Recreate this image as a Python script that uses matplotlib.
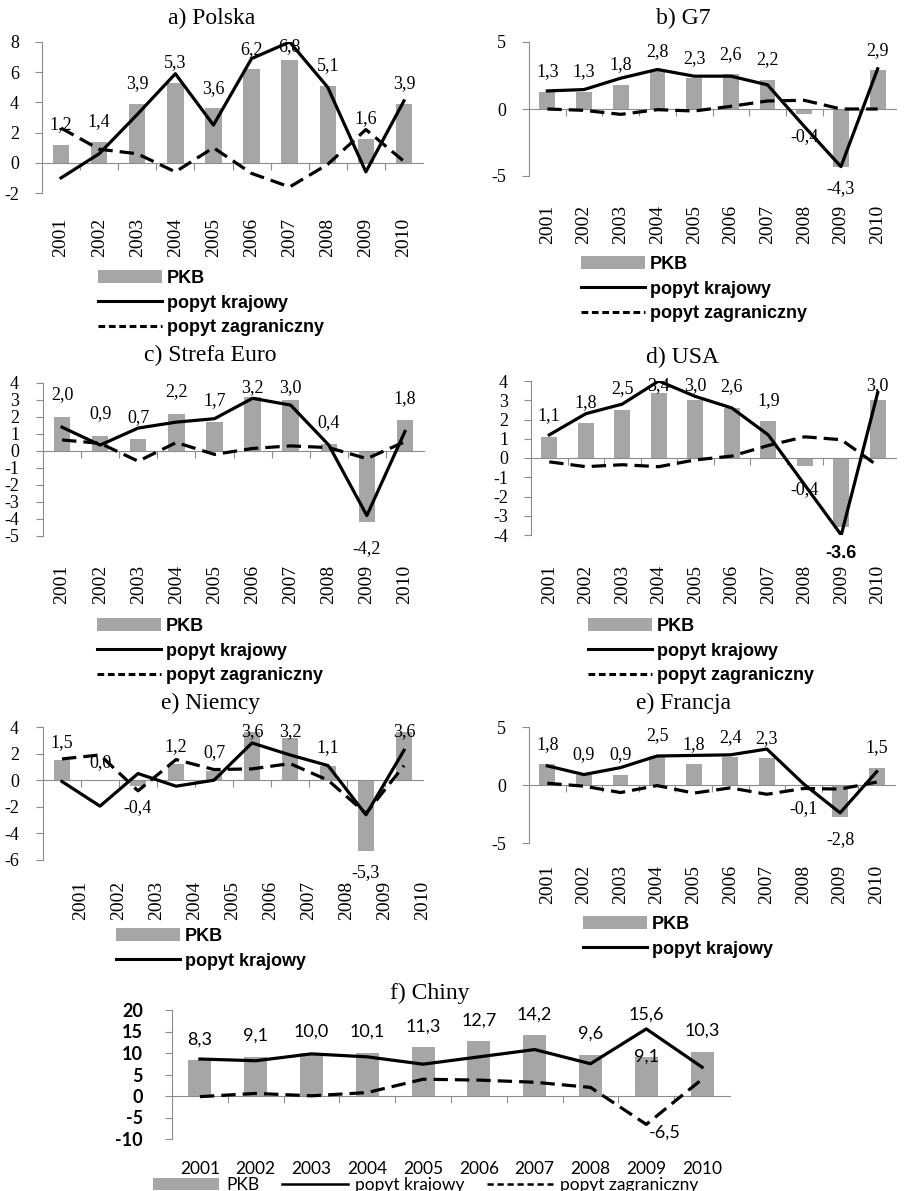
import matplotlib
matplotlib.use('Agg')
import matplotlib.pyplot as plt
from matplotlib.patches import Patch
from matplotlib.lines import Line2D
import numpy as np

years = ['2001', '2002', '2003', '2004', '2005', '2006', '2007', '2008', '2009', '2010']

# PKB (bars), popyt krajowy (solid), popyt zagraniczny (dashed)
pl_pkb = [1.2, 1.4, 3.9, 5.3, 3.6, 6.2, 6.8, 5.1, 1.6, 3.9]
pl_dom = [-1.0, 0.6, 3.2, 5.9, 2.5, 6.9, 8.0, 5.0, -0.6, 4.1]
pl_for = [2.3, 0.9, 0.6, -0.6, 1.0, -0.7, -1.6, -0.1, 2.2, 0.1]

g7_pkb = [1.3, 1.3, 1.8, 2.8, 2.3, 2.6, 2.2, -0.4, -4.3, 2.9]
g7_dom = [1.35, 1.45, 2.3, 2.95, 2.45, 2.45, 1.8, -1.3, -4.3, 3.0]
g7_for = [0.0, -0.1, -0.4, -0.05, -0.15, 0.2, 0.6, 0.65, 0.0, 0.0]

ez_pkb = [2.0, 0.9, 0.7, 2.2, 1.7, 3.2, 3.0, 0.4, -4.2, 1.8]
ez_dom = [1.4, 0.35, 1.35, 1.7, 1.9, 3.1, 2.7, 0.35, -3.8, 1.15]
ez_for = [0.65, 0.45, -0.6, 0.5, -0.2, 0.15, 0.3, 0.2, -0.45, 0.55]

us_pkb = [1.1, 1.8, 2.5, 3.4, 3.0, 2.6, 1.9, -0.4, -3.6, 3.0]
us_dom = [1.2, 2.3, 2.8, 4.0, 3.2, 2.6, 1.2, -1.4, -4.0, 3.4]
us_for = [-0.2, -0.45, -0.35, -0.45, -0.1, 0.1, 0.65, 1.1, 0.95, -0.4]

de_pkb = [1.5, 0.0, -0.4, 1.2, 0.7, 3.6, 3.2, 1.1, -5.3, 3.6]
de_dom = [-0.1, -1.95, 0.5, -0.45, 0.0, 2.8, 1.9, 1.1, -2.6, 2.25]
de_for = [1.6, 1.9, -0.8, 1.55, 0.8, 0.85, 1.25, 0.0, -2.5, 1.1]

fr_pkb = [1.8, 0.9, 0.9, 2.5, 1.8, 2.4, 2.3, -0.1, -2.8, 1.5]
fr_dom = [1.65, 0.9, 1.5, 2.5, 2.55, 2.6, 3.1, 0.1, -2.4, 1.15]
fr_for = [0.15, -0.1, -0.65, -0.05, -0.7, -0.25, -0.8, -0.3, -0.35, 0.25]

cn_pkb = [8.3, 9.1, 10.0, 10.1, 11.3, 12.7, 14.2, 9.6, 9.1, 10.3]
cn_dom = [8.6, 8.2, 9.8, 9.1, 7.4, 9.1, 10.8, 7.5, 15.6, 6.7]
cn_for = [-0.15, 0.6, 0.05, 0.8, 3.9, 3.7, 3.2, 2.0, -6.6, 3.9]

SERIF = 'Liberation Serif'
SANS = 'Liberation Sans'
CAL = 'Lato'
BAR = '#a6a6a6'
AXC = '#8c8c8c'
DASH = (0, (4.5, 2.2))

W, H = 906, 1191
fig = plt.figure(figsize=(W / 100, H / 100), dpi=100)


def make_ax(l, r, t, b):
    return fig.add_axes([l / W, 1 - b / H, (r - l) / W, (b - t) / H])


def fmt(v):
    return f'{v:.1f}'.replace('.', ',')


def panel(ax, pkb, dom, frn, ylim, yticks, gap, shift=0.0, width=0.43,
          family=SERIF, tickweight='normal', rot=90, fs_year=14, ypad=21):
    x = np.arange(len(years))
    ax.bar(x, pkb, width=width, color=BAR, zorder=2)
    ax.plot(x, dom, color='black', lw=2.3, zorder=4)
    ax.plot(x, frn, color='black', lw=2.3, ls=DASH, zorder=4)
    ax.set_xlim(-0.5, 9.5)
    ax.set_ylim(*ylim)
    ax.set_yticks(yticks)
    ax.set_yticklabels([str(t) for t in yticks], family=family,
                       fontsize=13, weight=tickweight)
    ax.set_xticks(np.arange(0.5, 9.5, 1.0))
    ax.set_xticklabels([])
    for s in ['top', 'right']:
        ax.spines[s].set_visible(False)
    ax.spines['left'].set_color(AXC)
    ax.spines['bottom'].set_color(AXC)
    ax.spines['bottom'].set_position(('data', 0))
    ax.tick_params(axis='both', direction='out', length=5, color=AXC)
    ax.tick_params(axis='y', pad=(ypad - 5) * 0.72)
    ax.patch.set_alpha(0)
    for i, y in enumerate(years):
        if rot == 90:
            ax.annotate(y, xy=(i + shift, 0), xycoords=('data', 'axes fraction'),
                        xytext=(0, -gap), textcoords='offset pixels',
                        rotation=90, ha='center', va='top',
                        fontsize=fs_year, family=family)
        else:
            ax.annotate(y, xy=(i + shift, 0), xycoords=('data', 'axes fraction'),
                        xytext=(0, -gap), textcoords='offset pixels',
                        ha='center', va='center', fontsize=fs_year, family=family)


def label_y(ax, v, off):
    lo, hi = ax.get_ylim()
    ppu = ax.bbox.height / (hi - lo)
    y = v + off / ppu
    return min(y, hi - 5 / ppu)


def bar_labels(ax, pkb, up=20, down=22, family=SERIF, fs=13, skip=(), **kw):
    for i, v in enumerate(pkb):
        if i in skip:
            continue
        y = label_y(ax, v, up if v >= 0 else -down)
        ax.text(i, y, fmt(v), ha='center', va='center', fontsize=fs,
                family=family, zorder=3, **kw)


def legend(ax, x, y, n=3, fs=13):
    hs = [Patch(facecolor=BAR, edgecolor='none'),
          Line2D([], [], color='black', lw=2.2),
          Line2D([], [], color='black', lw=2.2, ls=(0, (2.2, 1.2)))][:n]
    ls = ['PKB', 'popyt krajowy', 'popyt zagraniczny'][:n]
    ax.legend(hs, ls, loc='upper left', bbox_to_anchor=(x / W, 1 - y / H),
              bbox_transform=fig.transFigure, frameon=False, borderpad=0,
              borderaxespad=0, handlelength=3.55, handleheight=0.75,
              handletextpad=0.25, labelspacing=0.42,
              prop={'family': SANS, 'weight': 'bold', 'size': fs})


def title(x, y, s):
    fig.text(x / W, 1 - y / H, s, ha='center', va='center', fontsize=17, family=SERIF)


# a) Polska
ax = make_ax(42, 423, 42, 193)
panel(ax, pl_pkb, pl_dom, pl_for, (-2, 8), [-2, 0, 2, 4, 6, 8], 25)
bar_labels(ax, pl_pkb, down=11)
legend(ax, 98, 270)
title(212, 18, 'a) Polska')

# b) G7
ax = make_ax(529, 896, 42, 176)
panel(ax, g7_pkb, g7_dom, g7_for, (-5, 5), [-5, 0, 5], 29)
bar_labels(ax, g7_pkb)
legend(ax, 581, 256)
title(683, 18, 'b) G7')

# c) Strefa Euro
ax = make_ax(43, 424, 383, 536)
panel(ax, ez_pkb, ez_dom, ez_for, (-5, 4), list(range(-5, 5)), 29, ypad=22)
bar_labels(ax, ez_pkb, up=22, down=26)
legend(ax, 97, 618)
title(210, 355, 'c) Strefa Euro')

# d) USA
ax = make_ax(531, 896, 381, 535)
panel(ax, us_pkb, us_dom, us_for, (-4, 4), list(range(-4, 5)), 30)
bar_labels(ax, us_pkb, up=21, down=24, skip=(8,))
ax.text(8, label_y(ax, us_pkb[8], -26), '-3.6', ha='center', va='center',
        fontsize=13, family=SANS, weight='bold')
legend(ax, 588, 618)
title(682, 357, 'd) USA')

# e) Niemcy
ax = make_ax(43, 423, 727, 860)
panel(ax, de_pkb, de_dom, de_for, (-6, 4), [-6, -4, -2, 0, 2, 4], 21, shift=0.5,
      width=0.4, ypad=22)
bar_labels(ax, de_pkb, up=18, down=22)
legend(ax, 116, 928, n=2)
title(211, 703, 'e) Niemcy')

# e) Francja
ax = make_ax(529, 895, 727, 843)
panel(ax, fr_pkb, fr_dom, fr_for, (-5, 5), [-5, 0, 5], 22)
bar_labels(ax, fr_pkb)
legend(ax, 583, 916, n=2)
title(684, 703, 'e) Francja')

# f) Chiny
ax = make_ax(172, 730, 1010, 1139)
panel(ax, cn_pkb, cn_dom, cn_for, (-10, 20), [-10, -5, 0, 5, 10, 15, 20], 30,
      width=0.41, family=CAL, tickweight='bold', rot=0, fs_year=12.5, ypad=27)
bar_labels(ax, cn_pkb, up=21, family=CAL, skip=(8,))
ax.text(8, cn_pkb[8], fmt(cn_pkb[8]), ha='center', va='center', fontsize=13,
        family=CAL, zorder=3)
ax.text(8, label_y(ax, cn_dom[8], 14), fmt(cn_dom[8]), ha='center', va='center',
        fontsize=13, family=CAL, zorder=3)
ax.annotate('-6,5', xy=(8, cn_for[8]), xytext=(19, -8), textcoords='offset pixels',
            ha='center', va='center', fontsize=13, family=CAL, zorder=3)
hs = [Patch(facecolor=BAR, edgecolor='none'),
      Line2D([], [], color='black', lw=1.8),
      Line2D([], [], color='black', lw=1.8, ls=(0, (2.5, 1.5)))]
ax.legend(hs, ['PKB', 'popyt krajowy', 'popyt zagraniczny'], loc='upper left',
          bbox_to_anchor=(153 / W, 1 - 1177 / H), bbox_transform=fig.transFigure,
          ncol=3, frameon=False, borderpad=0, borderaxespad=0, handlelength=3.8,
          handleheight=0.65, handletextpad=0.4, columnspacing=1.3,
          prop={'family': CAL, 'size': 12.5})
title(430, 993, 'f) Chiny')

fig.savefig('out.png', dpi=100)
